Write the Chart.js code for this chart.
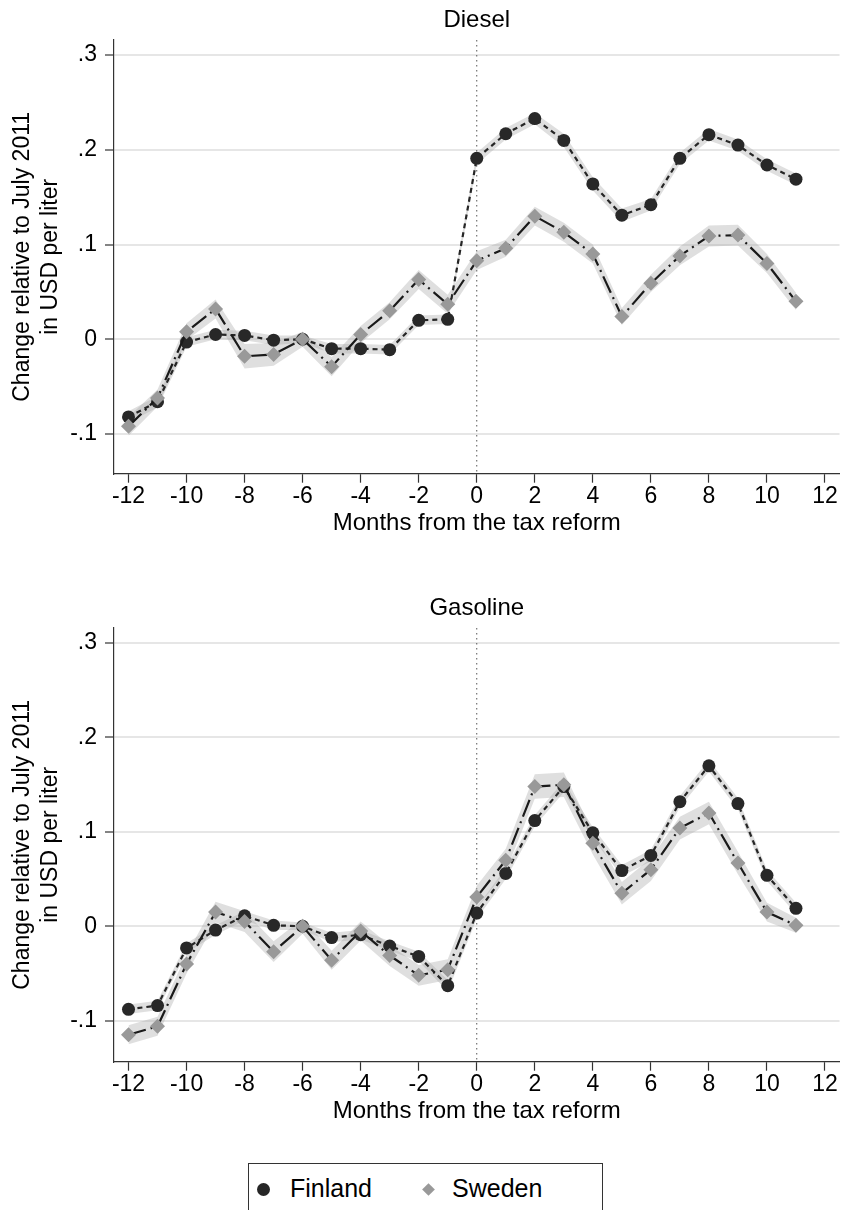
<!DOCTYPE html>
<html>
<head>
<meta charset="utf-8">
<script src="https://cdn.jsdelivr.net/npm/chart.js@4.4.1/dist/chart.umd.min.js"></script>
<style>
  body { margin: 0; background: #fff; width: 847px; height: 1210px; overflow: hidden; position: relative;
         font-family: 'Liberation Sans', Arial, sans-serif; }
  canvas { position: absolute; left: 0; }
  #dieselChart { top: 0; }
  #gasolineChart { top: 588px; }
  .legend { position: absolute; left: 248px; top: 1163px; width: 355px; height: 60px;
            border: 1px solid #333; box-sizing: border-box; }
  .legend span { position: absolute; font-size: 25px; line-height: 25px; color: #000; white-space: nowrap; }
  .dot { position: absolute; left: 8px; top: 19px; width: 13px; height: 13px; border-radius: 50%; background: #262626; }
  .dia { position: absolute; left: 175px; top: 21px; width: 9px; height: 9px; background: #999; transform: rotate(45deg); }
</style>
</head>
<body>
<canvas id="dieselChart" width="847" height="550"></canvas>
<canvas id="gasolineChart" width="847" height="550"></canvas>
<div class="legend">
  <div class="dot"></div><span style="left:41px; top:12px;">Finland</span>
  <div class="dia"></div><span style="left:203px; top:12px;">Sweden</span>
</div>

<script>
// months relative to the tax reform (July 2011)
var months = [-12, -11, -10, -9, -8, -7, -6, -5, -4, -3, -2, -1, 0, 1, 2, 3, 4, 5, 6, 7, 8, 9, 10, 11];

// Diesel
var dieselFinland = [-0.082, -0.066, -0.003, 0.005, 0.004, -0.001, 0, -0.010, -0.010, -0.011, 0.020, 0.021,
                     0.191, 0.217, 0.233, 0.210, 0.164, 0.131, 0.142, 0.191, 0.216, 0.205, 0.184, 0.169];
var dieselFinlandCI = [0.006, 0.006, 0.005, 0.005, 0.005, 0.005, 0.004, 0.005, 0.005, 0.005, 0.005, 0.005,
                       0.006, 0.006, 0.006, 0.007, 0.007, 0.007, 0.006, 0.006, 0.006, 0.006, 0.006, 0.006];
var dieselSweden = [-0.092, -0.062, 0.008, 0.032, -0.018, -0.016, 0, -0.029, 0.005, 0.030, 0.063, 0.037,
                    0.083, 0.096, 0.130, 0.113, 0.090, 0.024, 0.059, 0.088, 0.109, 0.110, 0.080, 0.040];
var dieselSwedenCI = [0.010, 0.009, 0.009, 0.010, 0.013, 0.012, 0.008, 0.010, 0.009, 0.009, 0.010, 0.010,
                      0.010, 0.009, 0.010, 0.010, 0.010, 0.009, 0.009, 0.010, 0.011, 0.011, 0.010, 0.009];

// Gasoline
var gasolineFinland = [-0.088, -0.084, -0.023, -0.004, 0.011, 0.001, 0, -0.012, -0.009, -0.021, -0.032, -0.063,
                       0.014, 0.056, 0.112, 0.148, 0.099, 0.059, 0.075, 0.132, 0.170, 0.130, 0.054, 0.019];
var gasolineFinlandCI = [0.005, 0.005, 0.005, 0.005, 0.005, 0.005, 0.004, 0.005, 0.005, 0.005, 0.005, 0.006,
                         0.006, 0.006, 0.006, 0.006, 0.006, 0.006, 0.006, 0.006, 0.006, 0.006, 0.006, 0.006];
var gasolineSweden = [-0.115, -0.106, -0.040, 0.015, 0.005, -0.027, 0, -0.036, -0.005, -0.031, -0.052, -0.046,
                      0.031, 0.070, 0.148, 0.150, 0.088, 0.035, 0.060, 0.104, 0.120, 0.067, 0.015, 0.001];
var gasolineSwedenCI = [0.010, 0.010, 0.010, 0.011, 0.011, 0.011, 0.008, 0.010, 0.010, 0.011, 0.011, 0.011,
                        0.012, 0.012, 0.013, 0.013, 0.012, 0.012, 0.012, 0.012, 0.012, 0.012, 0.010, 0.008];

// axis ticks
var xTickValues = [-12, -10, -8, -6, -4, -2, 0, 2, 4, 6, 8, 10, 12];
var yTickValues = [-0.1, 0, 0.1, 0.2, 0.3];
var yTickLabels = ['-.1', '0', '.1', '.2', '.3'];

Chart.defaults.font.family = "'Liberation Sans', Arial, sans-serif";
Chart.defaults.color = '#000';

function pts(vals, ci, sign) {
  return months.map(function (m, i) { return { x: m, y: vals[i] + sign * (ci ? ci[i] : 0) }; });
}

// dotted vertical line at the reform month + panel title centred over the plot
var panelExtras = {
  id: 'panelExtras',
  beforeDatasetsDraw: function (chart) {
    var ctx = chart.ctx, area = chart.chartArea;
    var x = chart.scales.x.getPixelForValue(0);
    ctx.save();
    ctx.strokeStyle = '#555';
    ctx.lineWidth = 1;
    ctx.setLineDash([1.5, 3.5]);
    ctx.beginPath();
    ctx.moveTo(x, area.top);
    ctx.lineTo(x, area.bottom);
    ctx.stroke();
    ctx.restore();
  },
  afterDraw: function (chart, args, opts) {
    var ctx = chart.ctx, area = chart.chartArea;
    ctx.save();
    ctx.fillStyle = '#000';
    ctx.font = "24px 'Liberation Sans', Arial, sans-serif";
    ctx.textAlign = 'center';
    ctx.textBaseline = 'middle';
    ctx.fillText(opts.text, (area.left + area.right) / 2, 20);
    ctx.restore();
  }
};

function band(vals, ci, color, order) {
  return [
    { data: pts(vals, ci, 1), pointRadius: 0, borderWidth: 0, fill: false, order: order },
    { data: pts(vals, ci, -1), pointRadius: 0, borderWidth: 0, fill: '-1', backgroundColor: color, order: order }
  ];
}

function makeChart(id, title, fin, finCI, swe, sweCI, yMin, yMax) {
  var ctx = document.getElementById(id).getContext('2d');
  var datasets = []
    .concat(band(fin, finCI, 'rgba(165,165,165,0.36)', 6))
    .concat(band(swe, sweCI, 'rgba(165,165,165,0.36)', 5))
    .concat([
      {
        label: 'Finland',
        data: pts(fin, null, 0),
        borderColor: '#262626',
        borderWidth: 2.2,
        borderDash: [5, 4],
        pointStyle: 'circle',
        pointRadius: 6.5,
        pointBackgroundColor: '#282828',
        pointBorderColor: '#282828',
        pointBorderWidth: 0,
        order: 2
      },
      {
        label: 'Sweden',
        data: pts(swe, null, 0),
        borderColor: '#1a1a1a',
        borderWidth: 2.2,
        borderDash: [18, 5, 2, 5],
        pointStyle: 'rectRot',
        pointRadius: 7.5,
        pointBackgroundColor: '#999999',
        pointBorderColor: '#999999',
        pointBorderWidth: 0,
        order: 1
      }
    ]);

  return new Chart(ctx, {
    type: 'line',
    data: { datasets: datasets },
    plugins: [panelExtras],
    options: {
      responsive: false,
      animation: false,
      devicePixelRatio: 1,
      layout: { padding: { top: 40, right: 4, bottom: 0, left: 0 } },
      elements: { line: { tension: 0 } },
      scales: {
        x: {
          type: 'linear',
          min: -12.5,
          max: 12.5,
          afterBuildTicks: function (scale) {
            scale.ticks = xTickValues.map(function (v) { return { value: v }; });
          },
          afterFit: function (scale) { scale.height = 76.3; },
          ticks: {
            autoSkip: false,
            maxRotation: 0,
            padding: 0,
            font: { size: 23, lineHeight: 1.2 },
            callback: function (v) { return String(v); }
          },
          grid: { drawOnChartArea: false, tickLength: 9, tickColor: '#333', tickWidth: 1.2 },
          border: { color: '#333', width: 1.2 },
          title: {
            display: true,
            text: 'Months from the tax reform',
            font: { size: 24, lineHeight: 1.2 },
            padding: { top: 0, bottom: 12.5 }
          }
        },
        y: {
          min: yMin,
          max: yMax,
          afterBuildTicks: function (scale) {
            scale.ticks = yTickValues.map(function (v) { return { value: v }; });
          },
          afterFit: function (scale) { scale.width = 114; },
          ticks: {
            padding: 8,
            font: { size: 23, lineHeight: 1.2 },
            callback: function (v, i) { return yTickLabels[i]; }
          },
          grid: { color: '#e6e6e6', lineWidth: 2, tickLength: 9, tickColor: '#333', tickWidth: 1.2 },
          border: { color: '#333', width: 1.2 },
          title: {
            display: true,
            text: ['Change relative to July 2011', 'in USD per liter'],
            font: { size: 23, lineHeight: 1.2 },
            padding: { top: 9, bottom: 0 }
          }
        }
      },
      plugins: {
        legend: { display: false },
        tooltip: { enabled: false },
        title: { display: false },
        panelExtras: { text: title }
      }
    }
  });
}

var dieselChart = makeChart('dieselChart', 'Diesel', dieselFinland, dieselFinlandCI, dieselSweden, dieselSwedenCI, -0.142, 0.316);
var gasolineChart = makeChart('gasolineChart', 'Gasoline', gasolineFinland, gasolineFinlandCI, gasolineSweden, gasolineSwedenCI, -0.1435, 0.316);
</script>
</body>
</html>
